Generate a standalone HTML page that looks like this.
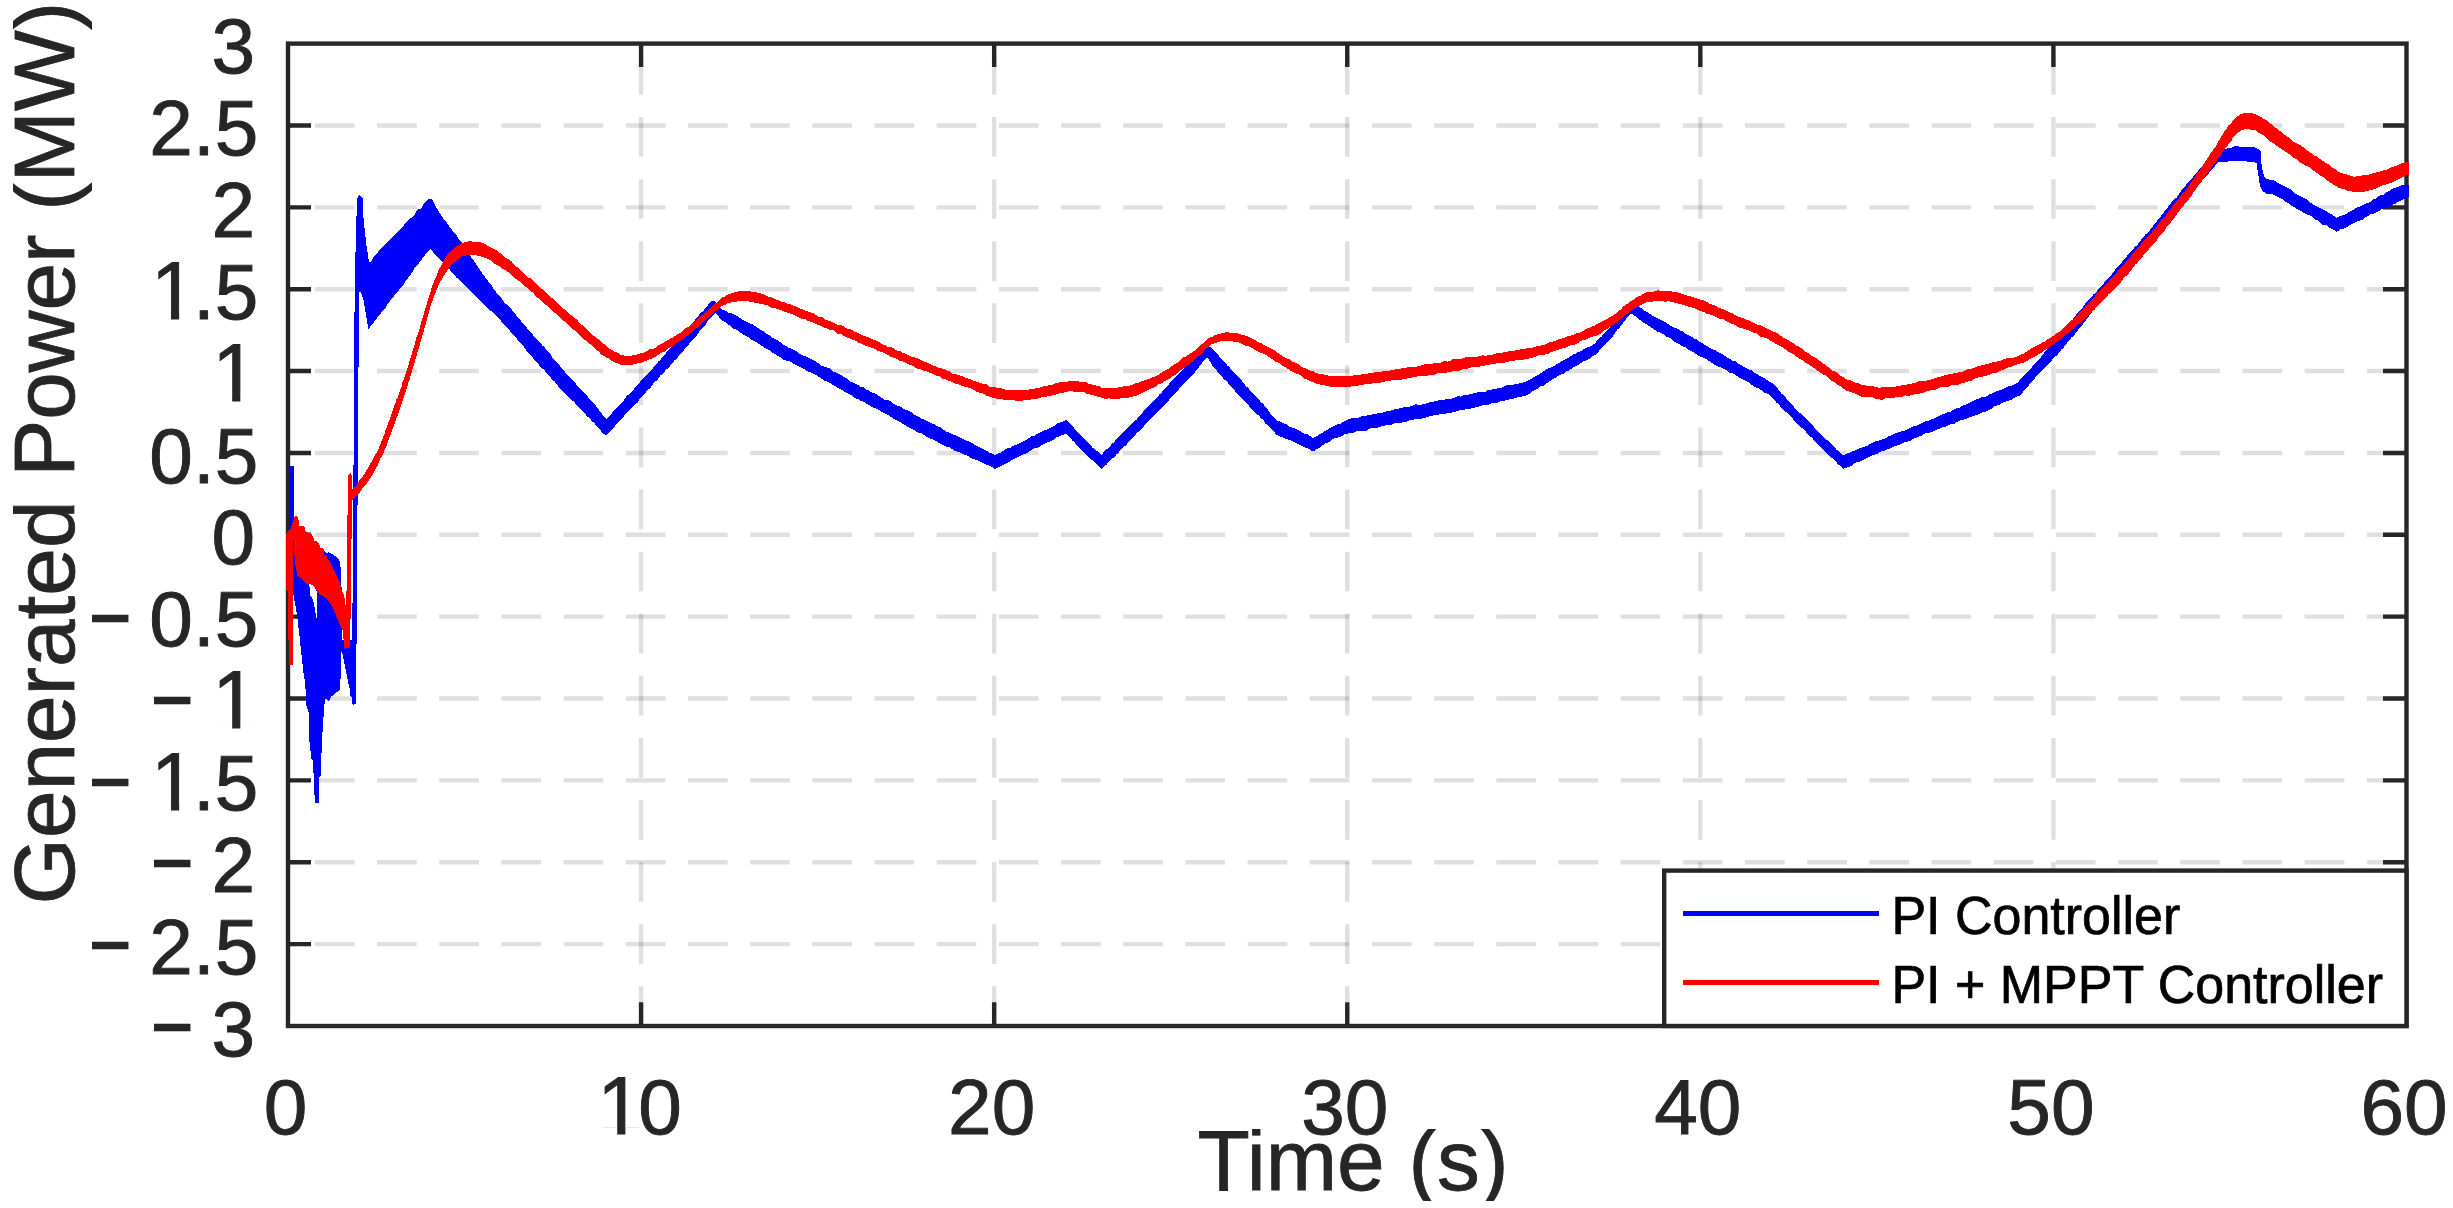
<!DOCTYPE html>
<html><head><meta charset="utf-8"><title>Generated Power</title>
<style>
html,body{margin:0;padding:0;background:#fff;}
body{width:2453px;height:1208px;overflow:hidden;}
svg{display:block;font-family:"Liberation Sans",sans-serif;}
.tk{font-size:78.4px;fill:#262626;stroke:#262626;stroke-width:0.9px;}
.o1{font-size:81.4px;}
.mn{font-size:70px;fill:#262626;stroke:#262626;stroke-width:2.4px;}
.lb{font-size:85.7px;fill:#262626;stroke:#262626;stroke-width:0.8px;}
.lg{font-size:52.0px;fill:#000;stroke:#000;stroke-width:0.7px;}
</style></head><body>
<svg width="2453" height="1208" viewBox="0 0 2453 1208">
<rect x="0" y="0" width="2453" height="1208" fill="#fff"/>

<g stroke="#262626" stroke-opacity="0.15" stroke-width="4.4" fill="none">
<path stroke-dasharray="39.7 22.39" d="M641.08 1026.00V43.60"/>
<path stroke-dasharray="39.7 22.39" d="M994.17 1026.00V43.60"/>
<path stroke-dasharray="39.7 22.39" d="M1347.25 1026.00V43.60"/>
<path stroke-dasharray="39.7 22.39" d="M1700.33 1026.00V43.60"/>
<path stroke-dasharray="39.7 22.39" d="M2053.42 1026.00V43.60"/>
<path stroke-dasharray="39.7 22.48" d="M2406.50 944.13H288.00"/>
<path stroke-dasharray="39.7 22.48" d="M2406.50 862.27H288.00"/>
<path stroke-dasharray="39.7 22.48" d="M2406.50 780.40H288.00"/>
<path stroke-dasharray="39.7 22.48" d="M2406.50 698.53H288.00"/>
<path stroke-dasharray="39.7 22.48" d="M2406.50 616.67H288.00"/>
<path stroke-dasharray="39.7 22.48" d="M2406.50 534.80H288.00"/>
<path stroke-dasharray="39.7 22.48" d="M2406.50 452.93H288.00"/>
<path stroke-dasharray="39.7 22.48" d="M2406.50 371.07H288.00"/>
<path stroke-dasharray="39.7 22.48" d="M2406.50 289.20H288.00"/>
<path stroke-dasharray="39.7 22.48" d="M2406.50 207.33H288.00"/>
<path stroke-dasharray="39.7 22.48" d="M2406.50 125.47H288.00"/>
</g>
<g stroke="#262626" stroke-width="4.4" fill="none">
<path d="M641.08 43.60v23.5M641.08 1026.00v-23.8"/>
<path d="M994.17 43.60v23.5M994.17 1026.00v-23.8"/>
<path d="M1347.25 43.60v23.5M1347.25 1026.00v-23.8"/>
<path d="M1700.33 43.60v23.5M1700.33 1026.00v-23.8"/>
<path d="M2053.42 43.60v23.5M2053.42 1026.00v-23.8"/>
<path d="M288.00 944.13h23.0M2406.50 944.13h-23.5"/>
<path d="M288.00 862.27h23.0M2406.50 862.27h-23.5"/>
<path d="M288.00 780.40h23.0M2406.50 780.40h-23.5"/>
<path d="M288.00 698.53h23.0M2406.50 698.53h-23.5"/>
<path d="M288.00 616.67h23.0M2406.50 616.67h-23.5"/>
<path d="M288.00 534.80h23.0M2406.50 534.80h-23.5"/>
<path d="M288.00 452.93h23.0M2406.50 452.93h-23.5"/>
<path d="M288.00 371.07h23.0M2406.50 371.07h-23.5"/>
<path d="M288.00 289.20h23.0M2406.50 289.20h-23.5"/>
<path d="M288.00 207.33h23.0M2406.50 207.33h-23.5"/>
<path d="M288.00 125.47h23.0M2406.50 125.47h-23.5"/>
</g>
<rect x="288.0" y="43.6" width="2118.50" height="982.40" fill="none" stroke="#262626" stroke-width="4.4"/>
<g shape-rendering="crispEdges">
<polygon fill="#0000ff" points="288.9,466.0 293.9,466.0 293.9,520.0 300.0,528.0 320.0,548.0 327.0,553.0 328.0,552.0 335.9,556.3 340.0,561.3 340.8,570.4 341.7,591.0 342.0,640.0 352.0,640.0 352.4,614.0 353.0,560.0 353.3,465.0 354.3,464.0 354.2,368.0 354.2,337.0 355.1,267.0 356.3,222.0 357.2,199.0 358.6,195.7 360.0,194.9 362.9,198.6 363.1,213.1 364.8,231.3 366.8,247.9 368.1,254.5 368.9,262.8 371.4,261.5 373.4,257.5 375.5,254.5 378.0,252.0 380.5,249.1 383.0,246.2 385.4,244.3 387.9,241.7 390.4,239.2 392.9,237.1 395.4,233.7 397.9,231.3 400.8,228.4 403.7,225.5 407.0,221.0 409.5,219.1 411.9,217.3 414.4,214.8 416.0,211.6 417.7,209.4 421.1,208.6 422.8,205.4 424.4,203.2 428.1,199.2 430.2,198.9 432.6,199.9 434.0,202.9 435.4,205.6 436.8,208.1 438.9,212.1 440.9,214.8 443.4,218.5 445.9,221.4 448.4,225.1 450.9,228.8 453.8,232.0 456.7,235.5 458.8,239.4 460.8,241.3 462.7,244.1 464.6,246.9 466.6,249.7 468.5,253.1 470.4,256.0 472.3,258.8 474.2,261.4 476.2,264.3 478.1,267.2 480.0,269.9 481.8,272.8 483.7,275.5 485.5,277.7 487.4,279.5 489.2,283.1 491.1,284.8 492.9,287.9 494.8,289.9 496.6,293.1 498.7,295.4 500.7,297.3 502.8,300.0 504.9,303.5 506.9,304.5 509.0,307.1 511.0,308.5 513.1,311.3 515.2,313.7 517.2,316.5 519.3,318.7 521.4,321.4 523.5,323.8 525.6,325.8 527.6,328.9 529.7,331.2 531.8,333.2 533.8,336.5 535.9,337.8 538.0,340.6 540.0,342.6 542.1,345.2 544.1,346.9 546.2,349.4 548.3,352.3 550.4,354.3 552.4,357.4 554.5,359.6 556.6,361.9 558.6,364.0 560.7,367.1 562.8,369.3 564.9,371.8 566.9,374.5 569.0,376.0 571.0,378.6 573.1,380.9 575.2,383.1 577.2,385.3 579.3,387.5 581.4,389.8 583.4,391.8 585.5,393.9 587.6,396.4 589.7,399.1 591.8,401.8 593.8,403.8 595.9,405.7 598.0,408.8 600.0,411.5 602.1,414.1 604.1,416.7 606.2,419.3 608.3,417.3 610.4,415.3 612.5,412.3 614.6,409.9 616.6,407.5 618.7,406.3 620.8,403.3 622.8,401.3 624.9,399.0 626.9,395.9 629.0,394.1 631.1,392.8 633.1,390.3 635.2,387.3 637.3,385.3 639.4,382.8 641.5,380.1 643.5,378.1 645.6,375.9 647.7,373.8 649.7,371.8 651.8,369.4 653.9,366.8 655.9,365.1 658.0,361.9 660.0,360.3 662.1,357.7 664.2,355.8 666.2,352.8 668.3,349.8 670.4,347.8 672.4,345.9 674.5,343.6 676.6,341.7 678.7,338.2 680.7,336.3 682.8,334.1 684.9,331.4 686.9,328.2 689.0,327.1 691.1,325.3 693.1,322.4 695.2,319.6 697.2,316.9 699.2,314.8 701.2,312.7 703.2,311.3 705.2,308.0 708.1,304.9 711.0,301.4 715.1,301.4 717.6,304.7 720.1,308.0 723.1,310.1 726.2,310.9 729.2,313.1 732.2,313.6 735.3,315.1 738.3,316.8 741.2,318.8 744.1,320.7 747.0,322.1 749.9,323.6 752.8,324.4 755.7,326.6 758.6,328.3 761.5,330.2 764.3,331.8 767.0,334.0 769.8,335.4 772.5,337.6 775.3,339.1 778.0,340.7 780.8,342.6 783.5,344.5 786.3,346.1 789.1,347.9 791.8,348.8 794.6,350.4 797.3,351.4 800.1,354.1 802.8,355.5 805.6,356.3 808.3,357.6 811.1,359.3 813.9,360.3 816.6,362.3 819.4,363.8 822.2,366.1 824.9,366.8 827.7,367.9 830.5,368.7 833.2,371.7 836.0,372.6 838.8,374.2 841.5,375.1 844.3,377.4 847.0,378.2 849.8,381.8 852.5,382.4 855.3,383.8 858.0,385.1 860.8,386.7 863.5,387.3 866.3,389.5 869.0,390.3 871.8,392.6 874.5,392.9 877.3,394.8 880.0,396.6 882.8,398.5 885.5,400.1 888.3,400.4 891.0,401.6 893.8,404.0 896.5,405.4 899.3,406.1 902.0,407.6 904.8,409.3 907.6,410.5 910.3,411.7 913.1,413.4 915.8,415.6 918.6,416.8 921.3,418.8 924.1,419.4 926.9,420.8 929.6,422.0 932.4,423.8 935.1,424.7 937.9,426.7 940.7,427.4 943.4,429.7 946.2,431.4 949.0,432.5 951.7,434.1 954.5,435.1 957.3,436.1 960.0,437.8 962.8,439.1 965.5,440.3 968.3,441.4 971.0,442.6 973.8,444.0 976.5,446.0 979.3,447.4 982.5,448.9 985.6,450.2 988.8,452.4 991.9,453.4 995.1,454.8 998.0,453.6 1000.9,452.5 1003.8,450.3 1006.7,448.5 1009.6,448.2 1012.5,446.5 1015.2,444.8 1018.0,444.3 1020.8,442.5 1023.5,441.4 1026.2,439.9 1029.0,438.2 1031.8,436.0 1034.5,435.8 1037.3,433.8 1040.1,432.4 1042.8,431.2 1045.6,430.0 1048.3,428.9 1051.1,427.6 1053.8,426.3 1056.6,423.8 1059.3,422.8 1062.1,421.7 1066.3,420.0 1070.4,424.2 1072.5,425.5 1074.6,428.7 1076.6,431.3 1078.7,433.3 1081.5,435.8 1084.2,438.9 1087.0,441.6 1089.7,444.4 1092.5,447.5 1095.2,449.8 1098.3,452.0 1101.5,454.8 1104.1,451.8 1106.7,449.1 1109.2,447.4 1111.8,444.0 1114.2,442.1 1116.5,439.2 1118.9,437.0 1121.2,434.6 1123.6,432.3 1125.9,429.8 1128.3,427.5 1130.4,425.2 1132.5,422.6 1134.5,420.7 1136.6,419.5 1138.7,416.8 1140.8,414.5 1142.8,412.2 1144.9,410.1 1147.0,408.0 1149.1,405.9 1151.1,403.3 1153.2,401.5 1155.3,399.3 1157.3,396.8 1159.4,394.6 1161.5,392.7 1163.6,390.0 1165.6,387.7 1167.7,386.2 1169.8,382.7 1171.8,381.2 1173.9,378.8 1175.9,376.5 1178.0,374.5 1180.4,372.2 1182.7,370.2 1185.1,367.4 1187.5,365.0 1189.9,362.4 1192.2,360.2 1194.6,357.9 1197.1,356.2 1199.5,353.6 1202.0,351.3 1204.5,349.7 1207.3,347.8 1210.1,346.9 1212.8,349.1 1215.5,351.6 1218.2,354.8 1220.4,357.7 1222.6,359.8 1224.8,362.0 1227.0,365.2 1229.1,366.8 1231.3,369.8 1233.5,372.2 1235.7,373.7 1237.9,376.8 1240.0,378.5 1242.1,381.1 1244.2,384.1 1246.3,386.6 1248.4,387.9 1250.6,391.1 1252.7,392.9 1254.8,395.2 1256.9,397.4 1259.0,399.9 1261.1,402.3 1263.1,403.9 1265.1,406.5 1267.2,408.7 1269.2,411.7 1271.2,414.7 1273.2,417.3 1275.3,418.4 1277.3,420.8 1280.4,421.5 1283.5,423.3 1286.6,424.5 1289.7,427.0 1292.8,427.8 1295.9,428.9 1298.8,430.2 1301.7,432.4 1304.6,433.8 1307.5,434.4 1310.4,436.4 1313.3,438.2 1316.2,436.4 1319.1,434.7 1321.9,433.1 1324.8,431.1 1327.7,429.6 1330.6,427.8 1333.7,426.1 1336.8,424.5 1339.9,424.1 1343.0,422.1 1346.1,420.7 1349.2,419.1 1352.3,417.8 1355.4,417.8 1358.4,417.6 1361.5,416.1 1364.6,416.4 1367.7,415.2 1370.8,414.9 1373.8,414.1 1376.9,413.6 1380.0,412.9 1383.0,412.7 1386.0,411.4 1388.9,411.5 1391.9,409.9 1394.9,409.2 1397.9,409.2 1400.9,407.8 1403.9,407.4 1406.8,407.3 1409.8,406.7 1412.8,405.6 1415.8,404.3 1418.8,404.7 1421.8,404.7 1424.8,403.8 1427.8,402.7 1430.9,402.0 1433.9,401.5 1436.9,400.6 1439.9,400.4 1442.9,399.9 1445.9,399.4 1448.9,398.7 1451.9,398.6 1454.9,397.4 1457.9,396.3 1460.9,396.6 1464.0,395.2 1467.0,394.8 1470.0,394.3 1473.0,393.5 1476.0,392.6 1479.0,392.4 1482.0,391.6 1485.0,391.9 1488.0,390.1 1491.0,389.6 1494.0,389.4 1497.1,388.6 1500.1,387.9 1503.1,387.3 1506.1,385.5 1509.1,385.2 1512.1,384.9 1515.0,384.2 1517.9,383.7 1520.9,383.3 1523.8,382.2 1526.7,381.3 1529.4,379.7 1532.1,378.2 1534.7,376.6 1537.4,375.2 1540.1,373.8 1542.8,371.8 1545.4,370.1 1548.1,368.5 1550.8,367.8 1553.5,366.3 1556.1,364.6 1558.8,363.0 1561.5,361.1 1564.3,360.0 1567.0,358.2 1569.8,357.0 1572.5,354.9 1575.3,353.8 1578.0,352.1 1580.8,351.2 1583.6,349.3 1586.3,348.0 1589.1,346.8 1591.8,345.7 1594.6,343.7 1597.0,340.9 1599.3,338.4 1601.7,336.6 1604.0,333.4 1606.4,331.5 1608.7,328.6 1611.1,326.4 1613.6,324.2 1616.1,321.4 1618.6,320.2 1621.1,317.6 1623.5,315.2 1626.0,314.3 1628.5,311.6 1631.0,310.5 1633.5,307.1 1636.0,304.8 1638.8,306.5 1641.5,308.4 1644.2,310.8 1647.0,312.0 1649.8,314.0 1652.5,315.6 1655.2,317.3 1658.0,318.2 1660.8,320.1 1663.5,321.4 1666.2,322.6 1669.0,324.9 1671.8,326.3 1674.5,327.5 1677.2,328.6 1680.0,330.5 1682.8,331.3 1685.5,333.9 1688.3,335.2 1691.0,336.2 1693.8,338.4 1696.5,339.4 1699.3,341.6 1702.1,343.2 1704.8,344.9 1707.6,346.4 1710.3,348.0 1713.1,349.5 1715.9,350.6 1718.6,352.4 1721.4,353.8 1724.1,355.5 1726.9,357.2 1729.7,358.8 1732.4,360.8 1735.2,360.6 1737.9,363.3 1740.7,364.6 1743.4,367.1 1746.2,367.7 1748.9,369.7 1751.5,370.2 1754.2,372.6 1756.8,373.8 1759.5,376.0 1762.1,376.8 1764.8,378.7 1767.4,380.3 1770.0,381.9 1772.7,383.5 1774.8,385.6 1776.9,387.4 1779.0,390.7 1781.1,393.2 1783.2,395.1 1785.4,397.1 1787.5,399.9 1789.6,402.3 1791.7,404.4 1793.8,406.8 1795.9,409.1 1798.2,411.9 1800.4,413.2 1802.7,415.7 1804.9,417.4 1807.2,420.1 1809.4,422.4 1811.7,424.6 1813.9,426.9 1816.2,430.2 1818.4,431.7 1820.7,434.0 1822.9,436.1 1825.2,439.2 1827.4,440.4 1829.7,441.9 1831.9,444.9 1834.1,446.5 1836.4,449.7 1838.6,450.7 1840.9,453.1 1843.1,455.5 1846.1,453.6 1849.0,453.1 1852.0,451.4 1855.0,450.5 1857.9,449.1 1860.9,447.8 1863.9,447.2 1866.8,445.9 1869.8,444.3 1872.8,442.7 1875.7,441.4 1878.7,440.6 1881.6,439.5 1884.5,439.2 1887.5,436.9 1890.4,435.6 1893.3,434.5 1896.2,433.1 1899.1,432.0 1902.0,431.2 1905.0,430.6 1907.9,428.9 1910.8,427.5 1913.7,425.9 1916.6,425.5 1919.5,424.2 1922.5,422.6 1925.4,421.4 1928.3,420.7 1931.2,419.4 1934.0,418.6 1936.9,417.2 1939.8,415.8 1942.6,414.3 1945.5,413.3 1948.4,411.9 1951.2,411.6 1954.1,409.0 1957.0,408.1 1959.8,407.5 1962.7,405.6 1965.6,405.0 1968.4,403.2 1971.3,402.0 1974.2,400.6 1977.0,398.9 1979.9,398.2 1982.7,396.7 1985.5,396.8 1988.3,395.0 1991.1,393.8 1993.9,392.8 1996.7,391.3 1999.7,390.3 2002.7,389.3 2005.7,387.6 2008.6,386.4 2011.6,385.7 2014.6,384.0 2017.6,382.9 2019.9,379.9 2022.2,377.8 2024.5,375.4 2027.0,372.5 2029.5,370.2 2032.0,366.9 2034.5,364.5 2036.5,361.7 2038.5,359.6 2040.4,358.0 2042.4,355.0 2044.4,352.6 2046.5,350.1 2048.7,347.4 2050.8,345.0 2052.9,342.6 2055.0,340.2 2057.2,336.4 2059.3,334.5 2061.3,332.7 2063.4,329.8 2065.4,327.3 2067.4,326.0 2069.5,322.6 2071.5,321.1 2073.6,318.3 2075.6,315.6 2077.6,312.8 2079.6,311.1 2081.6,308.8 2083.7,306.1 2085.7,302.8 2087.7,301.2 2089.7,299.0 2091.8,296.6 2093.8,294.0 2095.9,292.9 2097.9,289.8 2100.0,287.5 2102.1,285.2 2104.1,282.8 2106.2,280.8 2108.3,278.0 2110.3,275.9 2112.4,273.5 2114.5,270.6 2116.6,268.3 2118.7,265.3 2120.7,263.6 2122.8,260.9 2124.9,258.2 2126.9,256.2 2129.0,253.4 2131.1,251.2 2133.1,249.1 2135.2,246.2 2137.2,245.3 2139.3,241.9 2141.4,239.5 2143.5,237.1 2145.5,234.4 2147.6,233.0 2149.7,230.5 2151.8,227.7 2153.8,224.6 2155.9,222.8 2157.7,220.2 2159.6,218.3 2161.4,215.4 2163.3,212.8 2165.1,210.4 2167.0,208.2 2168.8,206.1 2170.7,203.4 2172.5,201.3 2174.6,198.8 2176.6,197.5 2178.7,194.6 2180.8,191.0 2182.8,189.1 2184.9,186.5 2186.9,183.9 2189.0,181.5 2191.1,179.5 2193.2,176.6 2195.2,174.2 2197.3,171.8 2199.4,169.5 2201.4,167.7 2203.5,165.1 2205.6,162.4 2208.1,159.5 2210.6,157.5 2213.0,154.9 2215.5,153.2 2218.0,150.5 2221.8,149.6 2225.6,148.6 2228.6,148.4 2231.6,147.5 2234.6,146.2 2237.6,146.4 2240.9,146.6 2244.2,146.6 2247.5,146.6 2251.0,147.2 2254.5,147.4 2259.4,149.6 2260.9,151.6 2261.1,155.0 2261.2,159.6 2261.4,163.5 2261.9,166.2 2262.4,169.2 2262.9,172.4 2264.4,177.4 2267.4,179.4 2273.3,179.9 2276.3,181.9 2279.3,183.7 2282.3,185.4 2285.1,186.7 2288.0,188.1 2290.8,189.5 2293.6,192.0 2296.4,194.3 2299.3,195.6 2302.1,197.3 2304.8,198.0 2307.5,200.1 2310.1,202.2 2312.8,204.3 2315.5,205.7 2318.2,206.9 2320.8,208.4 2323.5,209.5 2326.2,211.3 2328.9,212.9 2331.5,214.3 2334.2,216.2 2336.9,217.8 2339.7,216.3 2342.5,215.2 2345.3,214.3 2348.1,212.7 2350.9,211.2 2353.6,209.6 2356.4,207.7 2359.2,206.9 2362.0,205.8 2364.8,203.9 2367.6,202.9 2370.3,201.9 2372.9,199.7 2375.6,198.5 2378.2,196.7 2380.9,194.8 2383.5,194.7 2386.2,191.9 2388.8,191.2 2391.5,189.3 2394.8,187.8 2398.2,186.8 2401.5,185.4 2405.2,184.8 2408.9,184.9 2408.9,196.3 2405.8,198.0 2402.7,200.0 2399.6,200.9 2396.5,203.2 2393.6,204.3 2390.7,206.0 2387.8,206.9 2384.9,208.3 2382.1,209.1 2379.2,210.8 2376.3,212.1 2373.4,213.9 2370.5,214.2 2367.6,216.2 2364.8,217.3 2362.0,220.0 2359.2,220.6 2356.4,221.9 2353.6,223.4 2350.9,224.8 2348.1,226.2 2345.3,228.3 2342.5,229.0 2339.7,229.7 2336.9,231.9 2334.2,230.0 2331.4,228.9 2328.7,227.4 2325.9,224.8 2323.2,225.2 2320.5,222.9 2317.7,219.9 2315.0,219.6 2312.3,216.5 2309.5,215.2 2306.8,214.3 2304.0,213.3 2301.3,211.2 2298.6,209.8 2295.9,208.2 2293.2,206.5 2290.4,205.0 2287.7,202.6 2285.0,201.8 2282.3,199.3 2279.0,197.4 2275.6,195.8 2272.3,193.8 2266.4,193.8 2262.9,191.3 2260.9,188.3 2260.2,185.4 2259.6,183.2 2258.9,179.4 2258.4,175.6 2257.9,172.8 2257.4,169.5 2257.2,166.3 2256.9,163.0 2252.5,161.7 2249.2,162.1 2245.8,161.0 2242.5,161.0 2239.2,161.2 2235.9,161.4 2232.6,161.3 2229.1,161.2 2225.6,162.1 2222.1,162.5 2218.6,162.4 2216.5,163.9 2214.4,167.3 2212.4,169.3 2210.3,171.5 2208.2,174.0 2206.2,176.3 2204.1,178.7 2202.0,181.0 2200.1,183.6 2198.1,186.0 2196.2,188.7 2194.2,190.2 2192.3,193.5 2190.3,196.0 2188.4,198.5 2186.4,201.5 2184.5,202.9 2182.5,205.5 2180.6,207.9 2178.6,211.4 2176.7,213.4 2174.7,215.8 2172.8,218.2 2170.8,220.5 2168.9,223.0 2167.0,226.1 2165.0,227.6 2163.1,230.4 2161.1,232.1 2159.2,234.3 2157.2,237.0 2155.3,239.0 2153.3,241.8 2151.4,243.6 2149.4,245.7 2147.5,247.8 2145.5,250.1 2143.6,253.3 2141.6,255.9 2139.7,257.3 2137.7,259.9 2135.8,262.0 2133.7,263.9 2131.5,266.6 2129.4,269.3 2127.2,271.5 2125.1,274.1 2122.9,275.8 2120.8,278.3 2118.6,280.4 2116.4,282.8 2114.3,285.2 2112.2,287.4 2110.0,290.0 2108.1,292.8 2106.2,295.7 2104.3,297.4 2102.4,299.5 2100.5,301.4 2098.6,303.6 2096.7,306.2 2094.8,309.8 2092.9,310.5 2091.0,314.0 2089.1,315.8 2087.1,318.6 2085.1,321.4 2083.2,323.7 2081.2,326.2 2079.2,328.7 2077.2,330.9 2075.2,333.9 2073.2,336.1 2071.2,337.7 2069.2,340.6 2067.2,342.8 2065.2,345.3 2063.3,348.6 2061.3,349.6 2059.3,352.6 2056.8,355.3 2054.4,357.4 2051.9,360.2 2049.4,363.0 2046.9,365.4 2044.4,368.6 2041.9,370.9 2039.4,373.4 2036.9,375.3 2034.5,378.9 2032.0,381.7 2029.5,384.3 2027.3,387.3 2025.0,389.9 2022.8,392.2 2020.6,395.3 2017.4,396.4 2014.3,397.7 2011.2,400.0 2008.0,400.7 2004.8,401.8 2001.7,403.2 1998.5,405.2 1995.2,405.8 1992.0,408.3 1988.8,410.0 1985.9,411.8 1983.0,411.7 1980.2,413.6 1977.3,414.8 1974.4,415.7 1971.5,416.6 1968.6,417.8 1965.8,419.0 1962.9,420.0 1960.0,420.5 1957.1,421.8 1954.2,424.0 1951.3,423.9 1948.5,425.3 1945.6,426.6 1942.7,427.3 1939.8,428.9 1936.9,429.6 1934.1,431.2 1931.2,431.8 1928.3,433.1 1925.4,433.1 1922.5,435.2 1919.5,436.2 1916.6,438.0 1913.7,438.6 1910.8,440.4 1907.9,441.7 1905.0,442.2 1902.0,443.4 1899.1,444.9 1896.2,446.0 1893.3,446.7 1890.4,448.3 1887.5,449.2 1884.5,450.7 1881.6,451.1 1878.7,453.0 1875.7,454.3 1872.8,455.4 1869.8,456.4 1866.8,458.0 1863.9,459.4 1860.9,461.3 1857.9,462.2 1855.0,462.6 1852.0,465.5 1849.0,466.8 1846.1,467.7 1843.1,468.7 1840.9,466.4 1838.6,464.9 1836.4,462.1 1834.1,459.9 1831.9,457.9 1829.7,456.0 1827.4,453.7 1825.2,451.6 1822.9,449.5 1820.7,447.2 1818.4,444.9 1816.2,442.4 1813.9,440.2 1811.7,437.5 1809.4,435.6 1807.2,433.6 1804.9,430.7 1802.7,428.5 1800.4,427.1 1798.2,425.1 1795.9,422.4 1793.8,420.3 1791.6,417.1 1789.5,414.9 1787.3,413.1 1785.2,411.5 1783.1,409.1 1780.9,407.0 1778.8,404.4 1776.6,402.7 1774.5,400.2 1772.3,397.6 1770.2,395.9 1767.5,393.5 1764.9,393.1 1762.2,390.9 1759.5,388.8 1756.9,388.0 1754.2,386.8 1751.5,384.6 1748.9,382.4 1746.2,381.0 1743.4,379.6 1740.7,378.6 1737.9,376.3 1735.2,374.9 1732.4,373.1 1729.7,372.7 1726.9,370.7 1724.1,369.2 1721.4,367.8 1718.6,366.7 1715.9,365.5 1713.1,363.6 1710.3,362.0 1707.6,360.2 1704.8,358.2 1702.1,356.9 1699.3,356.3 1696.5,354.3 1693.8,352.3 1691.0,350.7 1688.3,349.8 1685.5,347.1 1682.8,346.7 1680.0,344.6 1677.3,343.2 1674.5,341.5 1671.8,339.1 1669.0,337.2 1666.3,336.6 1663.5,334.3 1660.8,333.0 1658.0,331.9 1655.3,330.2 1652.5,328.2 1649.7,326.3 1647.0,324.7 1644.2,323.0 1641.6,321.2 1638.9,319.1 1636.3,316.9 1633.6,315.4 1631.0,313.1 1629.0,315.5 1627.0,317.7 1625.0,320.8 1623.0,322.9 1621.0,325.7 1619.1,328.6 1617.1,329.7 1615.1,332.5 1613.1,336.0 1611.1,337.9 1609.0,340.4 1606.8,342.6 1604.7,344.6 1602.6,347.3 1600.5,349.3 1598.3,351.8 1596.2,354.5 1593.5,355.6 1590.9,357.5 1588.2,359.6 1585.5,360.7 1582.9,361.5 1580.2,363.5 1577.5,365.3 1574.8,366.4 1572.2,368.1 1569.5,370.2 1566.8,371.2 1564.2,373.3 1561.5,374.4 1558.9,375.7 1556.3,377.1 1553.7,378.5 1551.1,380.1 1548.5,382.3 1545.9,383.6 1543.2,385.8 1540.6,386.4 1538.0,388.5 1535.4,389.8 1532.8,391.1 1530.2,393.3 1527.6,394.9 1525.0,395.7 1521.8,396.5 1518.5,397.2 1515.3,398.1 1512.1,399.0 1509.1,399.5 1506.1,400.3 1503.1,401.3 1500.1,401.3 1497.1,402.9 1494.0,402.7 1491.0,403.6 1488.0,404.7 1485.0,405.3 1482.0,405.5 1479.0,406.4 1476.0,407.4 1473.0,407.8 1470.0,408.7 1467.0,409.2 1464.0,409.6 1460.9,409.8 1457.9,410.9 1454.9,411.9 1451.9,412.6 1448.9,412.7 1445.9,413.5 1442.9,413.9 1439.9,414.3 1436.9,415.0 1433.9,415.2 1430.9,416.1 1427.8,416.7 1424.8,417.8 1421.8,418.5 1418.8,419.0 1415.8,419.1 1412.8,419.7 1409.8,420.2 1406.8,421.7 1403.8,422.1 1400.8,422.7 1397.8,423.4 1394.7,423.3 1391.7,424.6 1388.7,424.9 1385.7,425.4 1382.7,426.1 1379.7,427.1 1376.5,427.8 1373.2,428.2 1370.0,428.2 1366.8,430.5 1363.6,430.7 1360.3,430.9 1357.1,431.1 1353.9,432.7 1350.6,433.1 1347.4,433.7 1344.6,434.2 1341.8,436.0 1339.0,437.4 1336.2,437.9 1333.4,438.9 1330.6,440.5 1328.0,442.9 1325.5,443.4 1322.9,445.1 1320.4,447.1 1317.8,448.3 1315.3,450.6 1312.7,451.5 1309.9,449.4 1307.1,447.8 1304.3,447.3 1301.5,445.7 1298.7,444.2 1295.9,442.8 1293.0,441.3 1290.1,440.1 1287.2,439.4 1284.3,438.2 1281.4,436.8 1278.5,435.9 1276.3,434.6 1274.2,431.7 1272.0,429.3 1269.8,427.3 1267.6,424.9 1265.4,423.5 1263.3,420.0 1261.1,418.5 1259.0,415.5 1256.9,414.5 1254.8,412.3 1252.7,409.7 1250.6,407.8 1248.4,405.3 1246.3,403.2 1244.2,400.9 1242.1,398.8 1240.0,396.2 1237.9,394.2 1235.8,392.0 1233.7,389.1 1231.6,386.7 1229.5,385.1 1227.4,382.2 1225.3,380.1 1223.2,378.6 1221.1,375.2 1219.0,373.7 1216.9,370.8 1214.8,368.7 1212.8,366.2 1210.8,362.6 1208.9,359.9 1206.9,357.1 1204.9,360.0 1202.8,361.9 1200.8,364.7 1198.7,367.3 1196.6,369.8 1194.6,372.8 1192.5,374.7 1190.4,376.7 1188.4,379.5 1186.3,381.4 1184.2,383.1 1182.2,385.8 1180.1,387.6 1178.0,390.2 1175.6,393.1 1173.3,395.7 1170.9,397.2 1168.6,400.5 1166.2,402.9 1163.9,405.3 1161.5,407.6 1159.4,410.0 1157.3,411.9 1155.3,414.7 1153.2,416.6 1151.1,418.5 1149.1,420.9 1147.0,422.9 1144.9,425.0 1142.8,427.5 1140.8,430.1 1138.7,431.7 1136.6,433.1 1134.5,436.4 1132.5,438.3 1130.4,440.2 1128.3,442.4 1125.9,445.3 1123.6,446.7 1121.2,448.9 1118.9,452.3 1116.5,454.4 1114.2,457.3 1111.8,458.9 1109.2,461.3 1106.7,464.4 1104.1,466.7 1101.5,468.9 1098.3,466.1 1095.2,463.1 1092.5,460.4 1089.7,458.2 1087.0,455.6 1084.2,453.1 1081.5,449.8 1078.7,447.4 1076.6,445.4 1074.6,442.6 1072.5,440.5 1070.4,438.3 1068.4,435.9 1066.3,434.1 1062.1,434.9 1059.3,436.4 1056.6,437.2 1053.8,439.4 1051.1,440.8 1048.3,442.2 1045.6,443.2 1042.8,444.4 1040.1,446.2 1037.3,447.9 1034.5,448.1 1031.8,449.9 1029.0,451.5 1026.2,453.4 1023.5,454.0 1020.8,455.8 1018.0,457.2 1015.2,458.4 1012.5,459.8 1009.6,461.8 1006.7,462.9 1003.8,464.6 1000.9,465.8 998.0,467.4 995.1,468.9 991.9,467.0 988.8,465.5 985.6,464.4 982.5,462.6 979.3,461.4 976.5,460.0 973.8,458.8 971.0,458.2 968.3,455.9 965.5,455.0 962.8,454.0 960.0,452.3 957.3,451.5 954.5,450.6 951.7,448.9 949.0,447.0 946.2,446.7 943.4,445.4 940.7,443.7 937.9,442.4 935.1,440.5 932.4,438.9 929.6,438.4 926.9,436.8 924.1,435.1 921.3,433.1 918.6,433.1 915.8,431.0 913.1,429.8 910.3,428.0 907.6,426.7 904.8,425.0 902.0,423.2 899.3,421.8 896.5,420.3 893.8,419.0 891.0,417.1 888.3,415.1 885.5,413.7 882.8,412.4 880.0,410.7 877.3,409.0 874.5,407.9 871.8,406.9 869.0,404.8 866.3,403.9 863.5,401.5 860.8,400.7 858.0,399.2 855.3,398.2 852.5,395.8 849.8,394.6 847.0,393.0 844.3,391.9 841.5,389.5 838.8,388.7 836.0,386.7 833.2,385.1 830.5,383.2 827.7,381.9 824.9,380.8 822.2,379.2 819.4,377.2 816.6,375.2 813.9,373.9 811.1,372.6 808.3,371.8 805.6,370.2 802.8,368.4 800.1,367.3 797.3,365.7 794.6,364.4 791.8,362.5 789.1,361.3 786.3,360.5 783.5,359.6 780.8,356.8 778.0,356.2 775.3,354.0 772.5,353.0 769.8,350.2 767.0,349.0 764.3,347.7 761.5,345.8 758.7,343.9 756.0,342.0 753.2,340.9 750.4,338.7 747.7,336.7 744.9,335.8 742.1,333.5 739.4,332.1 736.6,329.7 733.8,329.2 731.1,326.3 728.3,324.6 725.6,322.1 722.8,321.2 720.1,318.8 717.6,314.9 715.1,313.0 711.8,316.3 709.7,319.0 707.6,321.2 705.6,324.7 703.5,327.2 701.4,328.7 699.4,331.6 697.3,334.7 695.2,337.0 693.1,339.3 691.1,341.5 689.0,344.0 687.0,346.4 684.9,348.3 682.8,352.2 680.8,353.5 678.7,356.0 676.6,359.1 674.6,360.3 672.5,362.7 670.4,365.3 668.3,368.3 666.2,369.6 664.2,372.0 662.1,374.2 660.0,375.9 658.0,379.3 655.9,381.1 653.9,382.9 651.8,385.9 649.7,388.6 647.7,389.9 645.6,392.5 643.5,394.8 641.5,397.0 639.4,399.2 637.3,403.0 635.2,404.0 633.1,406.7 631.1,408.5 629.0,410.7 626.9,413.0 624.9,414.9 622.8,417.6 620.8,419.8 618.7,422.4 616.6,423.5 614.6,426.6 612.5,428.9 610.4,431.3 608.3,433.1 606.2,435.5 603.6,433.8 601.0,431.0 598.5,428.2 595.9,425.6 593.8,422.3 591.8,421.2 589.7,417.8 587.6,416.8 585.5,414.3 583.4,412.1 581.4,410.1 579.3,407.4 576.9,405.5 574.6,402.3 572.2,400.4 569.9,398.2 567.5,396.1 565.2,393.4 562.8,390.8 560.7,388.8 558.6,386.7 556.6,384.4 554.5,381.2 552.4,379.8 550.4,377.2 548.3,375.1 546.2,372.6 544.1,369.9 542.1,368.2 540.0,366.5 538.0,363.1 535.9,361.4 533.8,359.3 531.8,356.4 529.7,354.4 527.6,352.1 525.6,349.6 523.5,346.4 521.4,344.2 519.3,342.3 517.2,339.2 515.2,336.9 513.1,334.5 511.0,332.8 509.0,328.9 506.9,327.5 504.9,325.5 502.8,323.1 500.7,320.6 498.7,318.2 496.6,316.3 494.4,314.4 492.1,311.6 489.9,310.5 487.6,308.0 485.4,305.4 483.2,303.3 480.9,301.0 478.7,299.0 476.3,296.5 474.0,294.5 471.6,292.2 469.2,289.8 466.8,287.5 464.5,284.8 462.1,282.5 459.1,279.3 456.6,277.8 454.2,274.4 451.7,271.9 449.6,269.5 447.5,267.7 445.5,265.9 443.4,262.8 440.9,260.3 438.0,257.3 435.1,254.5 432.8,251.7 430.4,248.9 428.2,251.6 426.0,253.7 423.6,256.8 421.1,260.3 418.6,263.5 416.1,266.1 412.8,271.1 410.5,274.9 408.1,277.8 405.8,280.8 403.9,284.0 402.0,286.5 400.1,288.7 398.3,291.1 396.4,293.5 394.5,295.5 392.6,298.2 390.7,300.0 388.9,302.4 387.0,305.1 385.1,308.4 383.3,310.0 381.4,312.5 379.6,315.2 377.7,317.2 375.9,319.5 374.1,322.0 372.2,324.7 370.4,326.5 368.6,329.6 366.0,315.0 363.5,300.0 361.1,292.4 359.0,292.0 358.9,300.0 358.9,367.0 358.1,368.0 357.8,440.0 357.8,505.0 356.8,506.0 357.0,590.0 357.0,644.0 356.0,644.0 356.0,703.6 353.9,704.8 352.0,703.6 352.0,698.0 350.4,695.7 350.0,690.0 347.9,681.0 345.4,668.6 342.1,652.0 340.8,652.0 340.8,672.8 340.0,690.0 336.3,692.4 331.3,696.6 328.8,700.7 325.1,698.6 323.9,710.6 321.8,743.7 320.8,776.0 319.0,777.0 319.0,803.0 315.0,803.0 315.0,795.0 314.0,794.8 314.0,772.7 313.0,772.7 313.1,760.3 311.3,758.6 309.0,737.1 309.0,713.1 306.1,704.8 305.2,680.0 304.0,677.7 301.9,658.7 299.9,639.7 297.0,614.8 293.2,593.3 293.0,560.0 288.9,560.0"/>
<polygon fill="#ffffff" points="309.0,583.2 309.8,589.4 310.2,596.0 313.1,599.3 314.8,609.0 316.4,618.1 317.1,618.0 317.1,592.5 314.8,586.9 310.5,583.0"/>
<polygon fill="#ff0000" points="286.2,534.3 287.5,532.0 290.9,528.1 293.2,521.4 294.2,517.1 295.9,515.9 297.9,517.4 298.9,521.4 299.1,525.8 303.1,525.8 304.8,527.3 305.1,530.8 308.3,532.8 310.8,533.0 311.8,535.0 314.0,538.3 314.3,541.0 316.8,541.0 318.3,542.2 319.7,545.2 320.2,547.9 322.7,547.9 324.0,549.2 324.2,554.9 326.2,555.1 327.7,559.1 329.7,561.3 336.3,574.5 340.0,582.0 341.3,590.0 344.2,595.0 345.4,604.9 346.2,605.0 346.2,592.0 347.1,590.0 347.1,515.0 348.0,514.9 348.0,475.5 350.4,473.1 351.9,476.0 351.9,488.0 352.8,488.8 354.8,486.3 356.8,484.4 358.8,481.0 360.8,478.2 362.8,476.4 364.6,473.4 366.5,470.5 368.4,467.3 370.2,464.0 371.9,461.2 373.5,457.9 375.2,454.9 378.3,450.0 379.4,446.8 380.5,443.8 381.6,441.1 382.7,438.1 383.8,435.6 384.9,432.6 386.0,428.8 387.1,426.7 388.2,423.4 389.2,420.5 390.2,418.0 391.2,414.5 392.2,412.3 393.3,409.0 394.4,405.2 395.4,403.4 396.4,399.6 397.5,398.0 398.6,394.2 399.6,391.6 400.6,388.6 401.6,386.4 402.6,382.0 403.6,379.8 404.6,376.3 405.6,373.6 406.6,370.5 407.6,367.8 408.6,364.8 409.6,361.1 410.6,358.0 411.5,354.8 412.5,350.6 413.5,347.9 414.4,345.5 415.3,341.9 416.2,338.3 417.2,335.7 418.1,333.4 419.0,330.0 420.0,327.2 420.9,323.3 421.9,320.4 422.8,317.2 423.8,314.3 424.7,310.5 425.7,307.3 426.6,304.7 427.6,300.8 428.5,297.8 429.5,295.3 430.4,292.3 431.4,288.9 432.3,285.8 433.6,282.8 434.9,279.3 436.3,276.2 437.6,273.0 438.9,269.2 440.6,266.5 442.3,263.7 444.1,260.3 445.8,257.3 447.5,254.5 449.7,251.4 452.0,250.3 454.2,247.9 457.5,245.9 460.8,243.7 465.8,241.7 470.7,241.3 474.9,242.0 479.0,242.1 483.1,243.0 487.3,245.4 490.4,247.1 493.5,248.9 496.6,250.3 499.7,252.8 502.7,255.4 505.8,257.8 508.8,259.5 511.3,261.2 513.8,264.1 516.4,266.9 518.9,267.9 521.4,270.5 523.8,273.1 526.1,275.5 528.5,277.7 530.8,278.5 533.2,280.8 535.5,283.4 537.9,285.4 540.3,288.1 542.6,289.2 545.0,291.5 547.4,293.4 549.8,296.5 552.1,297.9 554.5,300.2 556.9,302.6 559.2,304.8 561.6,307.1 564.0,308.9 566.4,311.0 568.7,313.5 571.1,315.1 573.5,317.4 575.8,318.8 578.2,321.2 580.5,323.9 582.9,325.7 585.2,327.6 587.6,329.8 590.0,332.0 592.3,335.3 594.7,336.0 597.1,338.3 599.5,340.3 601.8,342.1 604.2,344.2 607.0,346.8 609.7,348.7 612.5,350.4 615.2,352.0 618.0,352.8 620.7,354.7 624.9,355.8 629.0,355.7 633.1,355.4 637.3,354.4 641.5,353.2 645.6,351.9 649.7,349.2 653.8,348.6 656.6,347.0 659.3,344.8 662.1,343.6 664.9,341.9 667.6,340.1 670.4,338.4 673.2,337.5 675.9,335.4 678.7,333.7 681.5,332.2 684.2,329.2 687.0,327.5 689.7,326.0 692.5,323.5 695.2,321.3 697.6,318.9 699.9,316.7 702.3,314.7 704.7,312.8 707.1,311.0 709.4,308.6 711.8,306.4 714.6,304.3 717.3,301.8 720.1,298.9 722.8,297.3 725.6,296.1 728.3,293.9 731.6,293.4 735.0,292.3 738.3,291.5 741.6,291.3 744.9,291.3 748.2,291.1 751.5,291.5 754.9,291.8 758.2,293.0 761.5,293.6 764.8,294.8 768.1,296.5 771.4,297.4 774.7,299.0 778.0,300.2 781.3,301.5 784.6,302.4 788.0,303.8 791.3,304.6 794.6,306.0 797.9,307.2 801.2,309.0 804.5,310.2 807.8,311.3 811.1,312.6 813.9,313.6 816.6,315.5 819.4,317.3 822.2,316.8 824.9,319.4 827.7,320.2 831.0,321.7 834.3,323.3 837.6,324.7 840.9,325.1 844.2,326.8 847.0,328.8 849.7,329.1 852.5,330.4 855.3,332.0 858.0,333.0 860.8,334.2 864.0,335.8 867.2,336.8 870.4,338.0 873.6,339.9 876.8,340.8 880.0,342.6 882.8,344.5 885.5,345.3 888.3,347.1 891.1,347.3 893.8,348.3 896.6,350.4 899.9,350.8 903.2,353.0 906.5,353.9 909.8,356.0 913.1,357.1 916.4,357.9 919.7,359.2 923.1,361.2 926.4,362.3 929.7,363.7 933.0,365.4 936.3,366.8 939.6,367.9 942.9,368.6 946.2,370.4 949.5,371.3 952.8,373.8 956.2,374.0 959.5,375.4 962.8,376.5 966.1,377.9 969.4,379.1 972.7,380.3 976.0,381.4 979.3,382.8 982.6,383.7 986.0,384.1 989.3,386.6 992.6,386.9 996.5,387.7 1000.3,388.1 1004.2,389.4 1008.1,389.9 1011.9,390.3 1015.8,390.2 1019.1,389.5 1022.4,389.6 1025.7,390.3 1029.0,389.4 1032.3,389.0 1035.6,388.3 1039.0,387.9 1042.3,386.7 1045.6,386.1 1048.9,385.1 1052.2,385.0 1055.5,383.4 1058.8,382.5 1062.7,382.0 1066.5,381.9 1070.4,381.1 1073.7,381.3 1077.0,380.8 1080.3,382.2 1083.6,381.5 1086.5,382.5 1089.4,384.2 1092.3,384.6 1095.2,385.3 1098.5,385.9 1101.9,387.8 1105.2,388.1 1109.1,387.9 1112.9,387.5 1116.8,387.7 1120.6,387.2 1124.5,385.8 1128.3,386.1 1131.6,385.2 1135.0,383.6 1138.3,382.8 1141.3,381.6 1144.3,380.2 1147.2,379.6 1150.2,378.3 1153.2,377.0 1156.0,376.0 1158.7,374.7 1161.5,372.6 1164.2,371.0 1167.0,369.6 1169.7,367.9 1172.5,365.7 1175.2,363.9 1178.0,362.5 1180.8,359.9 1183.5,357.5 1186.3,356.3 1188.9,354.2 1191.6,352.5 1194.2,351.0 1196.9,348.1 1199.5,346.4 1201.9,344.0 1204.2,342.3 1206.6,340.1 1209.0,338.0 1212.1,336.8 1215.1,335.1 1218.2,333.9 1221.3,333.5 1224.4,332.6 1227.5,332.2 1231.0,333.0 1234.4,333.1 1237.9,333.3 1240.8,334.6 1243.7,335.2 1246.6,335.8 1249.5,337.4 1252.4,338.9 1255.3,340.3 1258.2,342.2 1261.1,343.2 1264.0,345.2 1266.9,346.4 1269.8,347.9 1272.7,349.5 1275.6,351.0 1278.5,353.3 1281.4,355.3 1284.3,357.1 1287.2,358.4 1290.1,359.6 1293.0,362.0 1295.9,362.9 1298.8,364.1 1301.7,366.8 1304.6,368.1 1307.5,369.2 1310.4,371.0 1313.2,371.2 1316.1,373.0 1319.0,373.9 1322.9,374.1 1326.7,375.3 1330.6,376.2 1334.5,375.7 1338.3,376.1 1342.2,376.4 1346.1,375.9 1349.9,376.2 1353.8,375.4 1357.7,375.4 1361.5,374.3 1365.4,373.9 1369.1,373.4 1372.7,372.7 1376.3,372.1 1380.0,372.1 1383.2,370.9 1386.4,371.0 1389.5,370.8 1392.7,369.7 1395.9,369.4 1398.9,369.1 1401.9,368.1 1404.9,367.7 1407.9,367.4 1410.9,367.5 1414.0,366.5 1417.0,366.6 1420.0,365.7 1423.0,364.9 1426.0,364.1 1429.0,364.4 1432.0,363.7 1435.0,363.0 1438.0,363.2 1441.0,362.5 1444.0,361.1 1447.1,361.6 1450.1,361.0 1453.1,359.0 1456.1,359.3 1459.1,359.3 1462.1,358.6 1465.1,357.5 1468.1,357.4 1471.1,357.5 1474.1,357.0 1477.1,356.6 1480.2,356.2 1483.2,355.2 1486.2,356.0 1489.2,354.8 1492.2,355.0 1495.2,353.7 1498.2,353.1 1501.2,352.9 1504.2,352.3 1507.2,351.6 1510.2,351.2 1513.3,350.7 1516.3,350.4 1519.3,349.6 1522.3,349.0 1525.3,348.7 1528.3,347.9 1531.6,347.9 1534.9,346.6 1538.3,346.2 1541.6,345.3 1544.9,344.6 1548.2,342.7 1551.5,341.9 1554.9,340.8 1558.2,339.4 1561.5,338.8 1564.8,337.4 1568.1,335.8 1571.4,335.5 1574.7,334.0 1578.0,333.0 1580.8,332.3 1583.5,330.7 1586.3,328.8 1589.1,327.9 1591.8,326.8 1594.6,325.5 1597.5,323.8 1600.4,322.5 1603.3,320.7 1606.2,319.7 1609.5,317.2 1612.8,315.4 1616.1,313.1 1618.6,310.9 1621.0,309.5 1623.5,306.1 1626.0,304.8 1628.5,302.7 1631.0,301.0 1633.5,299.9 1636.0,297.4 1639.3,296.2 1642.6,294.4 1645.9,292.4 1649.8,292.1 1653.6,291.7 1657.5,290.3 1661.4,290.8 1665.2,290.6 1669.1,290.8 1672.7,291.7 1676.4,292.1 1680.0,293.2 1683.3,294.1 1686.6,295.4 1690.0,296.0 1693.3,297.3 1696.6,298.2 1699.9,299.4 1703.2,300.3 1706.5,301.6 1709.8,303.8 1713.1,304.8 1715.9,306.1 1718.6,307.7 1721.4,308.5 1724.2,309.8 1726.9,311.2 1729.7,312.3 1732.5,313.4 1735.2,315.3 1738.0,316.4 1740.7,317.4 1743.5,318.1 1746.2,319.7 1749.5,320.8 1752.8,322.5 1756.2,324.2 1759.5,325.1 1762.8,326.4 1765.5,327.8 1768.3,329.4 1771.0,330.6 1773.8,331.8 1776.5,332.8 1779.3,334.6 1782.1,336.9 1784.8,338.2 1787.6,339.8 1790.4,341.8 1793.1,343.1 1795.9,345.4 1798.7,346.5 1801.4,348.3 1804.2,351.0 1807.0,352.1 1809.7,354.5 1812.5,356.2 1815.2,357.7 1818.0,359.3 1820.8,361.7 1823.5,363.6 1826.2,365.5 1829.0,367.7 1831.8,370.2 1834.5,371.4 1837.3,372.9 1840.1,375.3 1842.8,376.7 1845.6,378.6 1848.9,380.4 1852.2,380.6 1855.5,383.0 1858.8,383.5 1862.1,385.2 1865.4,385.4 1868.7,386.3 1872.1,386.3 1875.4,386.6 1878.7,387.7 1882.0,387.4 1885.3,387.3 1888.6,386.6 1891.9,387.5 1895.2,386.9 1898.5,385.9 1901.8,385.3 1905.2,384.8 1908.5,384.2 1911.8,383.5 1915.1,383.3 1918.4,381.3 1921.7,381.5 1925.0,381.2 1928.3,380.2 1931.6,379.3 1934.9,378.2 1938.3,376.8 1941.6,376.4 1944.9,375.3 1948.2,374.4 1951.5,374.0 1954.9,372.8 1958.2,372.5 1961.5,371.9 1964.5,370.9 1967.6,369.3 1970.6,369.4 1973.7,367.9 1976.7,366.5 1979.8,365.9 1982.8,365.0 1986.2,364.3 1989.6,363.3 1992.9,362.2 1996.3,361.7 1999.7,361.0 2003.0,359.5 2006.3,358.3 2009.7,358.5 2013.0,357.7 2016.3,356.7 2019.6,355.0 2022.9,354.1 2026.2,351.9 2029.5,349.6 2032.5,347.6 2035.5,346.2 2038.4,345.2 2041.4,343.0 2044.4,341.6 2047.4,339.5 2050.4,337.6 2053.3,335.8 2056.3,333.1 2059.3,331.7 2061.9,329.4 2064.6,327.3 2067.2,324.8 2069.9,321.3 2072.5,319.9 2075.2,316.8 2077.4,314.8 2079.6,311.8 2081.9,310.5 2084.1,307.4 2086.8,304.7 2089.4,301.9 2092.1,298.9 2094.4,297.1 2096.8,292.9 2099.1,291.5 2101.5,289.5 2103.8,287.1 2106.2,284.1 2108.3,281.8 2110.3,279.5 2112.4,277.0 2114.5,274.9 2116.6,272.4 2118.7,269.5 2120.7,267.9 2122.8,265.9 2124.9,263.0 2126.9,260.7 2129.0,258.3 2131.1,255.8 2133.1,253.5 2135.2,250.9 2137.2,248.3 2139.3,246.0 2141.4,243.5 2143.5,241.4 2145.5,239.0 2147.6,236.8 2149.7,235.2 2151.8,232.4 2153.8,229.9 2155.9,227.8 2157.7,224.6 2159.6,222.4 2161.4,219.4 2163.3,218.6 2165.1,216.3 2167.0,213.3 2168.8,210.9 2170.7,208.9 2172.5,206.3 2174.6,203.9 2176.6,200.4 2178.7,198.4 2180.8,195.8 2182.8,192.9 2184.9,191.3 2186.9,188.5 2189.0,185.6 2190.7,182.8 2192.4,180.6 2194.2,177.8 2195.9,175.3 2197.6,172.9 2199.4,170.9 2201.1,168.0 2202.8,165.5 2204.5,162.7 2206.3,160.0 2208.0,157.8 2209.8,154.7 2211.5,151.8 2213.2,149.8 2215.0,147.8 2216.7,144.6 2218.3,141.5 2219.9,139.1 2221.5,136.2 2223.1,134.0 2224.7,130.7 2226.7,128.4 2228.6,125.2 2230.6,124.0 2232.6,120.8 2235.2,118.6 2237.9,116.1 2240.5,114.3 2244.0,113.3 2247.5,112.8 2251.4,113.3 2255.4,113.8 2258.9,116.2 2262.4,117.8 2264.9,119.4 2267.4,121.0 2269.8,123.6 2272.3,124.8 2274.8,127.4 2277.3,128.6 2279.8,130.8 2282.3,132.7 2284.8,134.8 2287.2,136.6 2289.7,138.3 2292.2,140.7 2295.5,143.1 2298.8,144.2 2302.1,146.6 2304.6,147.6 2307.1,150.3 2309.6,152.3 2312.1,153.6 2314.6,155.7 2317.1,156.7 2319.5,158.7 2322.0,160.5 2324.5,161.8 2326.9,163.8 2329.4,164.8 2331.9,167.5 2335.2,169.1 2338.6,172.0 2341.9,173.4 2345.9,173.9 2349.8,175.4 2353.8,176.6 2357.8,176.4 2360.8,176.0 2363.7,174.6 2366.7,174.9 2370.0,174.4 2373.3,172.9 2376.6,172.4 2379.9,171.7 2383.3,170.4 2386.6,169.5 2389.9,168.0 2393.2,166.8 2396.5,165.5 2399.6,164.0 2402.7,163.2 2405.8,162.3 2408.9,161.5 2408.9,174.4 2405.8,175.8 2402.7,177.2 2399.6,178.8 2396.5,180.4 2393.2,182.1 2389.9,183.0 2386.6,184.4 2383.3,185.0 2379.9,186.5 2376.6,188.3 2373.3,189.3 2370.0,190.3 2366.7,191.3 2363.4,191.7 2360.1,192.0 2356.8,191.8 2353.8,191.9 2350.8,191.1 2347.8,190.8 2343.9,189.0 2339.9,188.3 2337.2,186.9 2334.6,185.4 2331.9,183.4 2329.4,182.0 2326.9,180.4 2324.5,178.0 2322.0,176.4 2319.5,175.0 2317.1,172.9 2314.6,171.4 2312.1,169.5 2308.8,166.9 2305.4,165.8 2302.1,163.5 2299.6,162.1 2297.1,159.8 2294.7,158.5 2292.2,156.6 2289.7,154.6 2287.2,152.9 2284.8,151.3 2282.3,149.6 2279.8,148.0 2277.3,146.3 2274.8,144.1 2272.3,142.6 2269.8,141.2 2267.4,139.3 2264.9,136.3 2262.4,134.7 2258.9,132.9 2255.4,130.2 2251.9,130.4 2248.5,128.7 2245.5,129.2 2242.5,129.7 2239.9,131.3 2237.2,132.8 2234.6,135.7 2232.8,137.4 2231.1,141.7 2229.3,142.8 2227.6,145.6 2225.7,147.8 2223.8,150.3 2221.8,153.4 2219.9,156.9 2218.0,158.5 2216.0,161.9 2214.1,163.4 2212.2,166.6 2210.4,168.7 2208.5,171.9 2206.7,174.4 2204.8,176.7 2203.0,179.6 2201.1,181.8 2199.3,184.3 2197.4,186.8 2195.6,189.7 2193.8,192.0 2191.9,195.2 2190.1,197.2 2188.3,199.9 2186.4,201.7 2184.6,204.2 2182.8,206.5 2180.9,209.0 2179.1,211.3 2177.3,213.7 2175.4,216.6 2173.6,218.5 2171.7,221.2 2169.9,223.5 2168.0,225.2 2166.2,227.6 2164.3,231.2 2162.5,232.8 2160.4,235.2 2158.4,237.4 2156.3,240.9 2154.2,243.0 2152.2,244.9 2150.1,247.5 2148.1,250.1 2146.0,252.6 2143.9,255.0 2141.8,257.6 2139.8,259.7 2137.7,262.5 2135.6,264.3 2133.6,266.9 2131.5,269.7 2129.4,272.5 2127.3,275.2 2125.2,276.3 2123.2,278.4 2121.1,282.0 2119.0,284.9 2117.0,286.2 2114.9,288.1 2112.8,290.7 2110.5,293.1 2108.2,294.7 2105.9,297.7 2103.6,300.3 2101.3,302.5 2099.0,304.9 2096.8,307.0 2094.6,309.2 2092.3,311.5 2090.1,313.8 2087.4,316.3 2084.6,319.0 2081.9,321.7 2079.2,323.8 2076.7,325.8 2074.2,328.1 2071.7,330.1 2069.2,332.2 2066.7,334.2 2064.2,336.3 2061.8,338.5 2059.3,340.6 2056.3,342.1 2053.4,344.8 2050.4,347.0 2047.4,348.6 2044.4,350.3 2041.5,353.0 2038.5,353.8 2035.5,356.5 2032.3,357.9 2029.1,359.6 2026.0,361.4 2022.8,363.3 2019.6,363.5 2016.8,364.4 2013.9,365.7 2011.1,366.7 2008.2,367.5 2005.4,368.9 2002.5,370.2 1999.7,370.9 1996.5,372.9 1993.3,372.8 1990.2,374.3 1987.0,375.4 1983.8,376.4 1980.6,376.9 1977.4,377.7 1974.2,379.0 1971.1,381.0 1967.9,381.5 1964.7,382.7 1961.5,383.3 1958.2,384.9 1954.9,384.8 1951.5,385.3 1948.2,386.7 1944.9,386.9 1941.6,387.0 1938.3,388.4 1934.9,389.8 1931.6,390.1 1928.3,391.0 1925.0,391.9 1921.7,393.3 1918.4,393.7 1915.1,394.0 1911.8,395.1 1908.5,395.7 1905.2,395.4 1901.8,397.2 1898.5,396.6 1895.2,397.6 1891.9,397.5 1888.6,398.2 1885.3,398.3 1882.0,399.8 1878.7,399.3 1875.4,398.9 1872.1,397.3 1868.7,397.1 1865.4,397.4 1862.1,396.8 1858.8,395.4 1855.5,393.6 1852.2,392.5 1848.9,391.4 1845.6,390.2 1842.8,388.4 1840.1,386.1 1837.3,384.6 1834.5,382.1 1831.8,380.8 1829.0,378.5 1826.2,375.7 1823.5,374.5 1820.8,373.1 1818.0,371.0 1815.2,368.7 1812.5,366.9 1809.7,365.1 1807.0,363.4 1804.2,362.0 1801.4,359.5 1798.7,358.1 1795.9,356.2 1793.1,354.1 1790.4,352.5 1787.6,351.1 1784.8,348.9 1782.1,347.1 1779.3,345.4 1776.5,344.2 1773.8,342.6 1771.0,341.2 1768.3,339.0 1765.5,338.1 1762.8,337.1 1760.0,336.7 1757.3,333.8 1754.5,332.7 1751.7,332.3 1749.0,330.3 1746.2,329.7 1742.9,328.6 1739.6,327.8 1736.3,325.8 1733.0,324.1 1729.7,323.0 1726.9,321.8 1724.2,319.6 1721.4,319.0 1718.6,318.3 1715.9,316.8 1713.1,315.6 1709.8,314.3 1706.5,313.7 1703.2,311.7 1699.9,311.3 1696.6,309.0 1693.3,308.2 1690.0,306.7 1686.6,306.4 1683.3,304.7 1680.0,304.0 1676.4,302.9 1672.7,302.2 1669.1,301.2 1665.2,301.7 1661.4,301.2 1657.5,300.7 1653.6,301.3 1649.8,302.1 1645.9,302.4 1642.6,304.1 1639.3,306.2 1636.0,307.3 1633.5,309.2 1631.0,311.0 1628.5,313.1 1626.0,314.8 1623.5,317.1 1621.0,318.8 1618.6,321.2 1616.1,323.0 1612.8,325.1 1609.5,327.3 1606.2,329.7 1603.3,330.8 1600.4,333.8 1597.5,335.2 1594.6,336.3 1591.3,336.7 1588.0,338.6 1584.6,339.9 1581.3,340.7 1578.0,342.9 1574.7,344.7 1571.4,344.8 1568.1,346.3 1564.8,347.9 1561.5,348.7 1558.2,350.0 1554.9,350.8 1551.5,351.8 1548.2,354.1 1544.9,354.5 1541.6,355.3 1538.3,355.4 1534.9,357.1 1531.6,357.8 1528.3,358.6 1525.3,359.2 1522.3,359.9 1519.3,360.0 1516.3,360.4 1513.3,360.8 1510.2,361.3 1507.2,361.7 1504.2,362.9 1501.2,363.1 1498.2,363.1 1495.2,363.6 1492.2,363.9 1489.2,364.9 1486.2,365.1 1483.2,366.1 1480.2,366.5 1477.1,367.3 1474.1,367.4 1471.1,367.4 1468.1,368.6 1465.1,369.2 1462.1,369.4 1459.1,370.8 1456.1,370.6 1453.1,371.3 1450.1,371.9 1447.1,372.4 1444.0,373.1 1441.0,372.6 1438.0,373.1 1435.0,374.7 1432.0,375.2 1429.0,375.2 1426.0,376.0 1423.0,375.8 1420.0,376.4 1417.0,376.4 1414.0,377.3 1410.9,377.7 1407.9,378.1 1404.9,379.0 1401.9,379.6 1398.9,380.4 1395.9,380.2 1392.7,380.0 1389.5,381.2 1386.4,381.2 1383.2,382.2 1380.0,382.6 1376.3,382.9 1372.7,383.3 1369.1,384.3 1365.4,384.3 1361.5,384.9 1357.7,385.8 1353.8,385.8 1349.9,386.7 1346.1,387.0 1342.2,386.6 1338.3,386.8 1334.5,386.5 1330.6,386.6 1326.7,386.0 1322.9,385.1 1319.0,384.3 1316.1,383.5 1313.2,382.0 1310.4,381.3 1307.5,379.7 1304.6,378.7 1301.7,376.1 1298.8,374.5 1295.9,373.3 1293.0,372.0 1290.1,370.4 1287.2,368.3 1284.3,366.9 1281.4,365.1 1278.5,362.6 1275.6,361.7 1272.7,359.4 1269.8,357.7 1266.9,355.7 1264.0,353.9 1261.1,353.0 1258.2,351.5 1255.3,350.0 1252.4,348.3 1249.5,346.7 1246.6,346.0 1243.7,345.0 1240.8,343.5 1237.9,342.0 1234.4,342.4 1231.0,340.6 1227.5,340.9 1224.4,341.3 1221.3,341.1 1218.2,342.0 1215.1,343.3 1212.1,344.1 1209.0,346.1 1206.6,348.4 1204.2,350.6 1201.9,354.0 1199.5,355.5 1196.9,357.5 1194.2,360.4 1191.6,362.4 1188.9,364.6 1186.3,366.2 1183.5,368.5 1180.8,370.0 1178.0,372.6 1175.2,374.8 1172.5,376.3 1169.7,378.6 1167.0,380.2 1164.2,381.0 1161.5,383.5 1158.7,384.3 1156.0,386.6 1153.2,387.7 1150.2,388.8 1147.2,390.5 1144.3,392.1 1141.3,393.1 1138.3,395.2 1135.0,396.0 1131.6,397.0 1128.3,397.7 1124.5,398.0 1120.6,398.2 1116.8,399.3 1112.9,398.7 1109.1,398.4 1105.2,398.8 1101.9,397.6 1098.5,396.9 1095.2,396.0 1092.3,394.9 1089.4,394.4 1086.5,393.6 1083.6,391.9 1080.3,391.5 1077.0,391.7 1073.7,391.6 1070.4,391.1 1066.5,391.9 1062.7,392.9 1058.8,393.5 1055.5,394.6 1052.2,395.5 1048.9,395.7 1045.6,396.9 1042.3,397.1 1039.0,398.4 1035.6,398.7 1032.3,399.3 1029.0,399.8 1025.7,399.9 1022.4,400.7 1019.1,400.8 1015.8,400.7 1011.9,399.9 1008.1,399.8 1004.2,399.8 1000.3,398.5 996.5,398.6 992.6,397.7 989.3,396.8 986.0,395.5 982.6,393.1 979.3,392.7 976.0,391.3 972.7,389.3 969.4,387.7 966.1,387.1 962.8,386.1 959.5,384.6 956.2,384.2 952.8,382.2 949.5,381.0 946.2,379.5 942.9,378.9 939.6,376.3 936.3,375.7 933.0,373.8 929.7,372.8 926.4,371.0 923.1,370.8 919.7,368.8 916.4,368.4 913.1,366.2 910.4,365.0 907.6,364.0 904.9,362.5 902.1,361.3 899.4,360.6 896.6,358.8 893.8,357.6 891.1,357.4 888.3,354.8 885.5,353.9 882.8,352.1 880.0,351.4 876.8,350.3 873.6,348.1 870.4,347.4 867.2,346.1 864.0,345.1 860.8,343.5 858.0,342.5 855.3,340.7 852.5,339.8 849.7,338.4 847.0,337.4 844.2,336.0 841.5,334.2 838.7,334.1 836.0,332.8 833.2,330.1 830.5,330.3 827.7,328.6 824.4,327.9 821.1,325.7 817.7,325.0 814.4,323.4 811.1,321.8 807.8,321.0 804.5,318.8 801.2,318.6 797.9,317.0 794.6,315.2 791.3,314.0 788.0,312.9 784.6,312.0 781.3,310.0 778.0,309.2 774.7,307.9 771.4,307.9 768.1,305.6 764.8,304.7 761.5,304.2 758.2,303.1 754.9,302.6 751.5,302.0 748.2,301.4 744.9,301.1 741.6,301.2 738.3,301.1 735.0,302.0 731.6,302.4 728.3,303.0 725.6,304.5 722.8,305.6 720.1,307.2 717.3,310.0 714.6,312.1 711.8,314.6 709.4,317.2 707.1,318.3 704.7,321.1 702.3,322.6 699.9,325.5 697.6,327.6 695.2,329.5 692.5,332.2 689.7,333.9 687.0,335.9 684.2,337.8 681.5,340.0 678.7,342.0 675.9,343.4 673.2,346.5 670.4,347.4 667.6,348.9 664.9,351.4 662.1,352.7 659.3,354.0 656.6,356.1 653.8,357.7 649.7,359.2 645.6,361.0 641.5,362.7 637.3,363.5 633.1,364.6 629.0,365.1 624.9,364.6 620.7,364.6 616.6,363.0 612.5,361.5 609.7,359.0 607.0,357.8 604.2,356.3 601.4,354.6 598.7,351.5 595.9,349.4 593.5,346.8 591.2,344.8 588.8,343.2 586.4,340.9 584.0,339.3 581.7,337.4 579.3,334.8 576.9,332.7 574.6,330.3 572.2,328.6 569.9,326.6 567.5,324.2 565.2,322.1 562.8,319.9 560.4,318.0 558.1,315.9 555.7,313.3 553.3,312.3 550.9,309.1 548.6,307.1 546.2,305.0 543.8,303.4 541.5,300.8 539.1,299.0 536.8,296.9 534.4,294.4 532.1,292.0 529.7,290.2 527.2,287.7 524.7,286.2 522.2,283.7 519.6,281.5 517.1,279.8 514.6,277.8 512.1,275.2 509.2,272.8 506.3,270.9 503.4,269.4 500.5,266.9 497.5,265.0 494.4,263.7 491.4,261.1 488.6,259.2 485.9,258.2 483.1,257.0 479.0,256.0 474.9,254.9 470.8,255.3 466.6,255.3 462.9,256.0 459.1,258.2 456.6,260.9 454.2,262.4 451.7,264.4 449.8,266.9 447.8,269.8 445.9,272.7 444.1,275.4 442.4,278.4 440.6,280.8 438.9,284.1 437.7,287.1 436.6,289.8 435.4,293.4 434.2,295.8 433.0,299.4 431.9,302.4 430.7,305.6 429.9,308.5 429.0,311.7 428.2,314.8 427.4,317.8 426.5,320.7 425.7,324.0 424.8,326.9 424.0,330.0 423.1,333.0 422.1,337.2 421.2,339.8 420.2,343.3 419.3,346.3 418.4,349.0 417.4,352.9 416.5,355.8 415.6,358.9 414.8,361.8 413.9,364.5 413.0,367.3 412.1,370.6 411.2,373.6 410.4,376.2 409.5,379.7 408.5,382.0 407.5,385.6 406.5,389.1 405.6,391.5 404.6,395.0 403.6,397.7 402.6,400.8 401.6,403.5 400.5,406.9 399.5,410.0 398.4,413.4 397.3,416.3 396.2,419.0 395.2,421.7 394.1,425.4 392.9,428.3 391.8,431.4 390.6,435.3 389.4,437.7 388.2,440.6 387.1,444.2 385.9,447.1 384.7,450.0 383.4,453.1 382.0,456.2 380.6,458.1 379.3,461.5 377.9,465.0 376.4,467.1 374.9,469.6 373.5,473.1 371.3,476.3 369.1,480.0 366.9,483.0 365.0,485.5 363.2,487.2 361.4,490.0 359.5,493.0 357.3,495.6 355.0,497.9 352.8,499.6 351.9,499.6 351.9,538.9 351.0,539.0 351.0,609.0 350.0,629.0 350.0,647.0 345.5,648.8 344.2,647.9 342.9,631.4 337.9,619.8 333.0,608.2 326.4,598.3 317.3,592.5 316.4,589.8 314.8,586.9 309.5,583.5 307.3,585.3 301.9,578.6 297.4,576.2 294.9,562.9 293.7,540.6 293.1,541.0 293.1,665.0 289.1,665.0 289.1,641.0 288.1,640.0 288.1,592.0 286.2,590.0"/>
</g>
<rect x="1664.2" y="870.6" width="742.30" height="155.40" fill="#fff" stroke="#262626" stroke-width="4.4"/>
<rect x="1683" y="911" width="196" height="5" fill="#0000ff"/>
<rect x="1683" y="980" width="196" height="5" fill="#ff0000"/>
<text class="lg" transform="translate(1891.4 934.0) scale(1 1.025)">PI Controller</text>
<text class="lg" transform="translate(1891.4 1003.0) scale(1 1.025)">PI + MPPT Controller</text>
<text class="tk"><tspan text-anchor="end" x="255.2" y="73.2">3</tspan></text>
<text class="tk"><tspan text-anchor="end" x="258.3" y="155.1">2.5</tspan></text>
<text class="tk"><tspan text-anchor="end" x="255.2" y="236.9">2</tspan></text>
<text class="tk"><tspan class="o1" x="151.0" y="318.8">1</tspan><tspan text-anchor="end" x="258.3" y="318.8">.5</tspan></text>
<text class="tk"><tspan class="o1" x="212.2" y="400.7">1</tspan></text>
<text class="tk"><tspan text-anchor="end" x="258.3" y="482.5">0.5</tspan></text>
<text class="tk"><tspan text-anchor="end" x="255.2" y="564.4">0</tspan></text>
<text class="tk"><tspan class="mn" text-anchor="end" x="130.9" y="641.8">−</tspan><tspan text-anchor="end" x="258.3" y="646.3">0.5</tspan></text>
<text class="tk"><tspan class="mn" text-anchor="end" x="193.0" y="723.6">−</tspan><tspan class="o1" x="212.2" y="728.1">1</tspan></text>
<text class="tk"><tspan class="mn" text-anchor="end" x="130.9" y="805.5">−</tspan><tspan class="o1" x="151.0" y="810.0">1</tspan><tspan text-anchor="end" x="258.3" y="810.0">.5</tspan></text>
<text class="tk"><tspan class="mn" text-anchor="end" x="193.0" y="887.4">−</tspan><tspan text-anchor="end" x="255.2" y="891.9">2</tspan></text>
<text class="tk"><tspan class="mn" text-anchor="end" x="130.9" y="969.2">−</tspan><tspan text-anchor="end" x="258.3" y="973.7">2.5</tspan></text>
<text class="tk"><tspan class="mn" text-anchor="end" x="193.0" y="1051.1">−</tspan><tspan text-anchor="end" x="255.2" y="1055.6">3</tspan></text>
<text class="tk" text-anchor="middle" x="285.5" y="1134.3">0</text>
<text class="tk"><tspan class="o1" x="597.2" y="1134.3">1</tspan><tspan x="638.3" y="1134.3">0</tspan></text>
<text class="tk" text-anchor="middle" x="991.7" y="1134.3">20</text>
<text class="tk" text-anchor="middle" x="1344.8" y="1134.3">30</text>
<text class="tk" text-anchor="middle" x="1697.8" y="1134.3">40</text>
<text class="tk" text-anchor="middle" x="2050.9" y="1134.3">50</text>
<text class="tk" text-anchor="middle" x="2404.0" y="1134.3">60</text>
<rect x="155.70" y="311.72" width="15.27" height="8.58" fill="#fff"/>
<rect x="179.16" y="311.72" width="14.63" height="8.58" fill="#fff"/>
<rect x="216.90" y="393.59" width="15.27" height="8.58" fill="#fff"/>
<rect x="240.36" y="393.59" width="14.63" height="8.58" fill="#fff"/>
<rect x="216.90" y="721.05" width="15.27" height="8.58" fill="#fff"/>
<rect x="240.36" y="721.05" width="14.63" height="8.58" fill="#fff"/>
<rect x="155.70" y="802.92" width="15.27" height="8.58" fill="#fff"/>
<rect x="179.16" y="802.92" width="14.63" height="8.58" fill="#fff"/>
<rect x="601.90" y="1127.22" width="15.27" height="8.58" fill="#fff"/>
<rect x="625.36" y="1127.22" width="14.63" height="8.58" fill="#fff"/>
<clipPath id="cx"><rect x="1100" y="1129.1" width="500" height="71.8"/></clipPath>
<g clip-path="url(#cx)"><text class="lb" text-anchor="middle" x="1353.0" y="1189.6">Time (s)</text></g>
<clipPath id="cy"><rect x="13" y="0" width="79.1" height="1000"/></clipPath>
<g clip-path="url(#cy)"><text class="lb" text-anchor="middle" transform="translate(73.5 453.2) rotate(-90)" style="font-size:85.5px">Generated Power (MW)</text></g>
</svg></body></html>
